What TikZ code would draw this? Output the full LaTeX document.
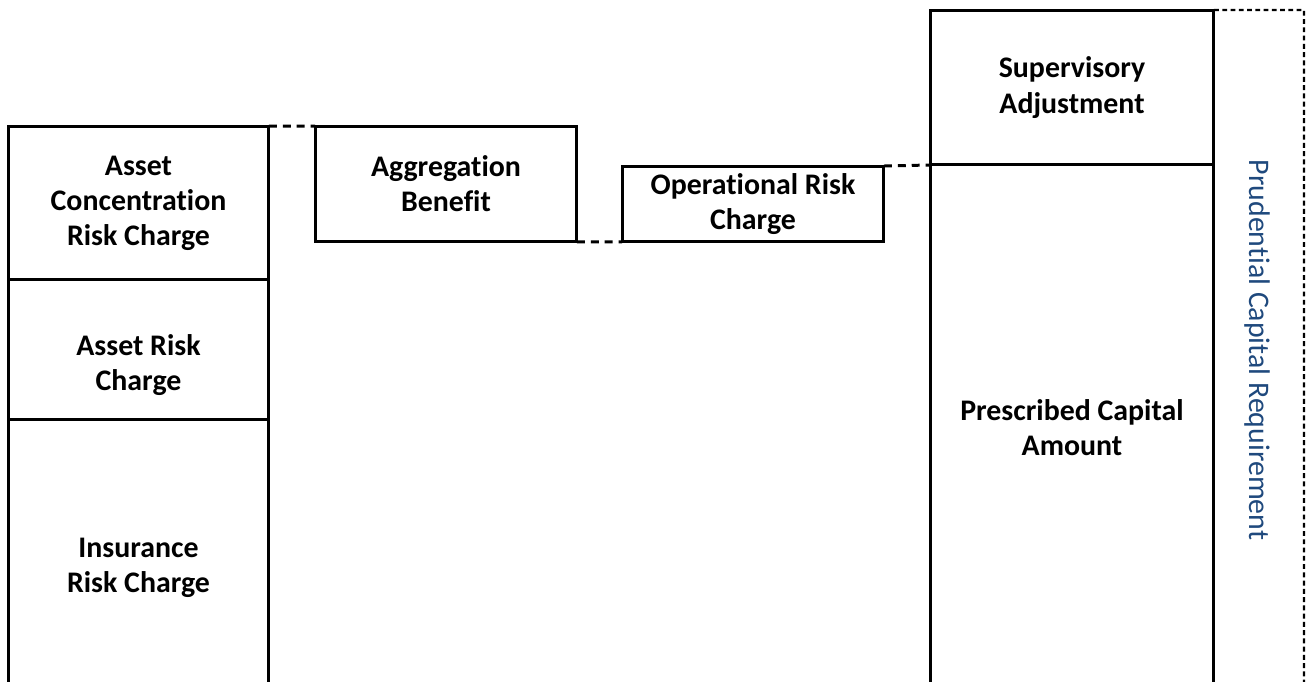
\documentclass[tikz,border=0pt]{standalone}
\usepackage{fontspec}
\setmainfont{Carlito}[Ligatures=NoCommon]
\usetikzlibrary{positioning}
\definecolor{pcrblue}{RGB}{31,73,125}

\begin{document}
\begin{tikzpicture}[x=0.02cm,y=-0.02cm,line width=1.7pt,
            blk/.style={draw,rectangle,align=center,inner sep=0pt,outer sep=0pt,
                        font=\fontsize{17}{20}\selectfont\bfseries},
            txt/.style={align=center,font=\fontsize{17}{20}\selectfont\bfseries},
            link/.style={dash pattern=on 4.5pt off 3.4pt},
            frame/.style={line width=1.2pt,dash pattern=on 2.8pt off 1.9pt}
            ]
            \useasboundingbox (0,0) rectangle (1307,682);

            % left column
            \node[blk,minimum width=5.22cm,minimum height=3.08cm](acr) at (138.5,203)
                {Asset\\Concentration\\Risk Charge};
            \node[blk,minimum width=5.22cm,minimum height=2.8cm](ar)[below=0pt of acr]{};
            \node[txt](artext) at ([yshift=-0.3cm]ar.center){Asset Risk\\Charge};
            \node[blk,minimum width=5.22cm,minimum height=5.9cm](ir)[below=0pt of ar]
                {Insurance\\Risk Charge};

            % middle
            \node[blk,minimum width=5.24cm,minimum height=2.32cm](agg) at (446,184)
                {Aggregation\\Benefit};
            \node[blk,minimum width=5.24cm,minimum height=1.52cm](opr) at (753,204)
                {Operational Risk\\Charge};

            % right column
            \node[blk,minimum width=5.68cm,minimum height=3.1cm](sup) at (1072,87.5)
                {Supervisory\\Adjustment};
            \node[blk,minimum width=5.68cm,minimum height=10.5cm](pca)[below=0pt of sup]
                {Prescribed Capital\\Amount};

            \path[link]
            (acr.north east) edge (agg.north west)
            (agg.south east) edge (opr.south west)
            (opr.north east) edge (sup.south west);

            % total
            \coordinate (pcrtop) at (1304,10);
            \coordinate (pcrbot) at (1304,700);
            \draw[frame] (sup.north east) -- (pcrtop) -- (pcrbot);
            \node[rotate=-90,text=pcrblue,font=\fontsize{17}{20}\selectfont](pcr) at (1257,350)
                {Prudential Capital Requirement};

        \end{tikzpicture}
\end{document}
